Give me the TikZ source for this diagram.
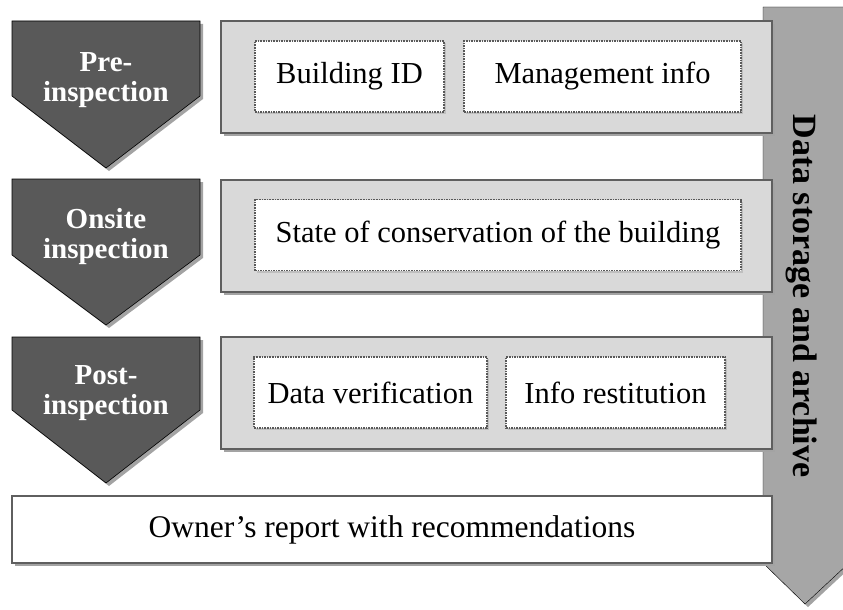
\documentclass[tikz,border=0pt]{standalone}
\usepackage{fontspec}
\setmainfont{Liberation Serif}
\usetikzlibrary{shadows,positioning}
\definecolor{phasegray}{HTML}{595959}
\definecolor{boxgray}{HTML}{D9D9D9}
\definecolor{framegray}{HTML}{5F5F5F}
\definecolor{archgray}{HTML}{A6A6A6}
\definecolor{shadowgray}{HTML}{A3A3A3}

\begin{document}
\begin{tikzpicture}[x=1pt,y=-1pt,
    shade/.style={drop shadow={shadow xshift=3pt,shadow yshift=-3pt,fill=shadowgray,opacity=1}},
    phase/.style={draw=black,semithick,fill=phasegray,shade},
    phasetext/.style={text=white,font=\fontsize{29}{30}\selectfont\bfseries,align=center},
    stagebox/.style={draw=framegray,line width=2pt,fill=boxgray,shade,minimum height=112pt},
    itembox/.style={draw=black!65,densely dotted,line width=1.6pt,fill=white,
        drop shadow={shadow xshift=2pt,shadow yshift=-2pt,fill=black!25,opacity=1},
        minimum height=71pt,font=\fontsize{30.5}{32}\selectfont},
    archive/.style={draw=black,thin,fill=archgray,shade}]
        \useasboundingbox (0,0) rectangle (843,610);
        %存档箭头
        \draw [archive] (763,7) -- (849,7) -- (849,563) -- (805,604) -- (763,563) -- cycle;
        \node [rotate=-90,font=\fontsize{34}{36}\selectfont\bfseries] (arch) at (802,296) {Data storage and archive};
        %阶段
        \draw [phase] (12,21) -- (200,21) -- (200,96) -- (106,168) -- (12,96) -- cycle;
        \node [phasetext] (pre) at (106,80) {Pre-\\inspection};
        \draw [phase] (12,179) -- (200,179) -- (200,255) -- (106,325) -- (12,255) -- cycle;
        \node [phasetext] (onsite) at (106,237) {Onsite\\inspection};
        \draw [phase] (12,337) -- (200,337) -- (200,410) -- (106,483) -- (12,410) -- cycle;
        \node [phasetext] (post) at (106,393) {Post-\\inspection};
        %灰框
        \node [stagebox,minimum width=551pt] (prebox) at (496.5,77) {};
        \node [stagebox,minimum width=551pt] (onsitebox) at (496.5,236) {};
        \node [stagebox,minimum width=551pt] (postbox) at (496.5,392.5) {};
        %内容
        \node [itembox,minimum width=189pt] (bid) at (349.5,76.5) {Building ID};
        \node [itembox,minimum width=277pt] (mgmt) at (602.5,76.5) {Management info};
        \node [itembox,minimum width=486pt] (state) at (498,235) {State of conservation of the building};
        \node [itembox,minimum width=233pt] (verif) at (370.5,392.5) {Data verification};
        \node [itembox,minimum width=219pt] (restit) at (615.5,392.5) {Info restitution};
        %报告
        \node [draw=framegray,line width=2pt,fill=white,shade,minimum width=760pt,minimum height=67pt,
            font=\fontsize{31.5}{33}\selectfont] (report) at (392,529.5) {Owner’s report with recommendations};
\end{tikzpicture}
\end{document}
